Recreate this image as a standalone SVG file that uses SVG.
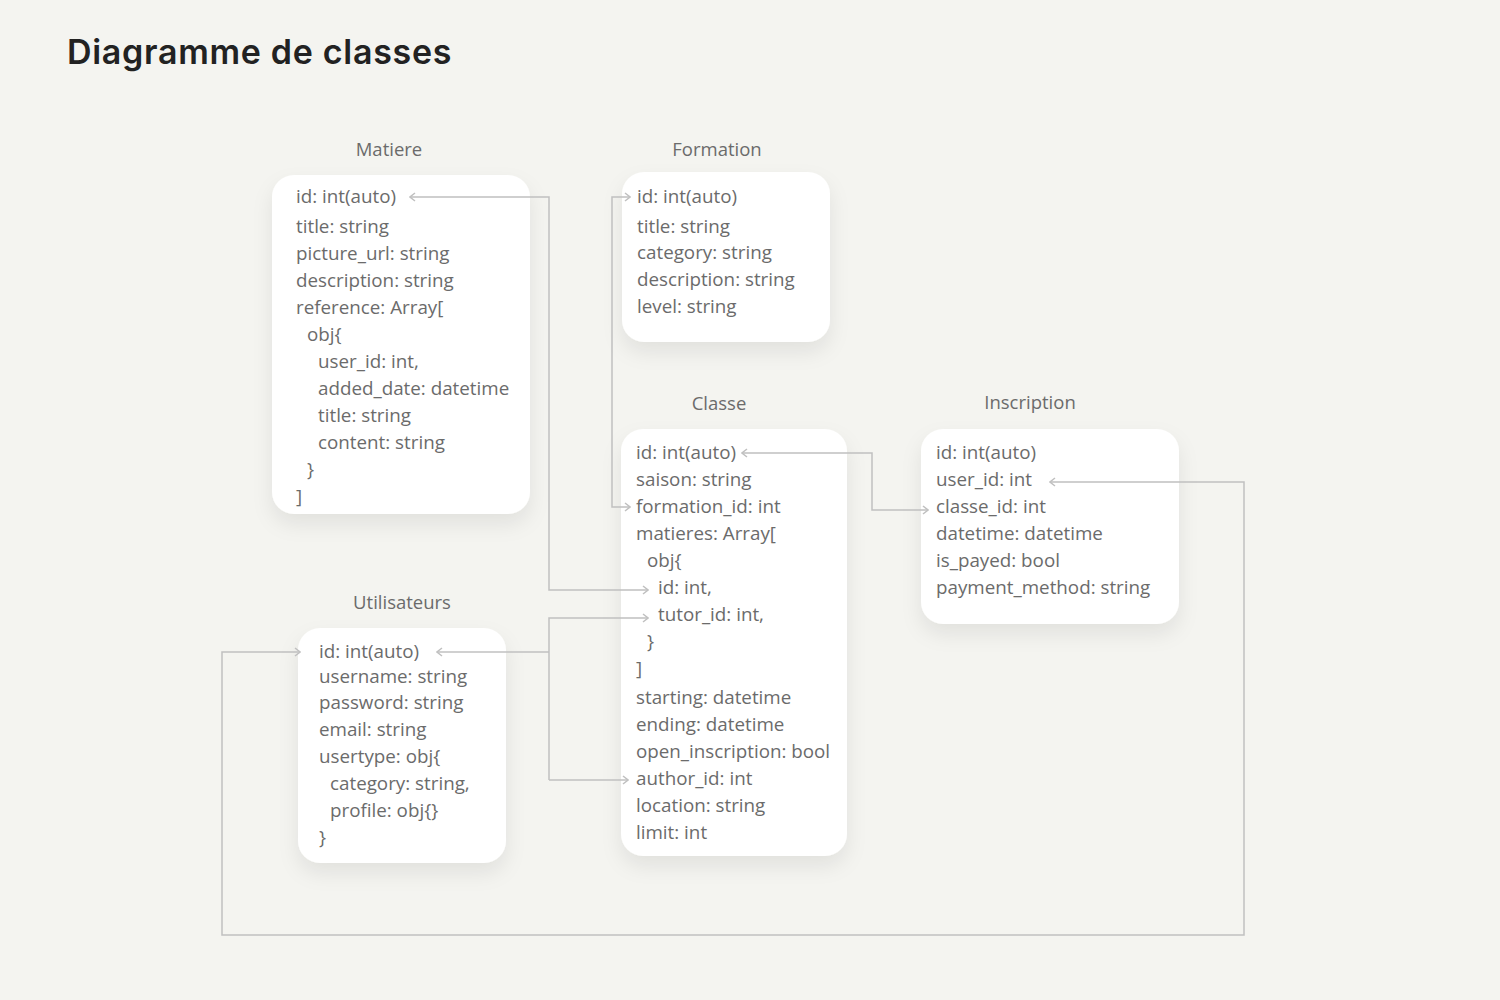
<svg xmlns="http://www.w3.org/2000/svg" width="1500" height="1000" viewBox="0 0 1500 1000">
<style>
.bg{fill:#f4f4f0}
.box{fill:#ffffff;filter:url(#sh)}
.t{font-family:"Open Sans","Noto Sans",sans-serif;font-size:18.8px;fill:#6b6b6b}
.h{font-family:"Open Sans","Noto Sans",sans-serif;font-size:18.5px;fill:#6b6b6b;text-anchor:middle}
.title{font-family:Inter,"Liberation Sans",sans-serif;font-size:34px;font-weight:600;fill:#222222;letter-spacing:0.7px}
.c{fill:none;stroke:#c0c0c0;stroke-width:1.5}
</style>
<defs>
<filter id="sh" x="-30%" y="-30%" width="160%" height="170%">
<feDropShadow dx="0" dy="10" stdDeviation="10" flood-color="#000" flood-opacity="0.08"/>
</filter>
<marker id="ar" viewBox="0 0 10 10" refX="9" refY="5" markerWidth="10" markerHeight="10" markerUnits="userSpaceOnUse" orient="auto-start-reverse">
<path d="M4,1 L9,5 L4,9" fill="none" stroke="#c0c0c0" stroke-width="1.5"/>
</marker>
</defs>
<rect class="bg" x="0" y="0" width="1500" height="1000"/>
<text class="title" x="67" y="64">Diagramme de classes</text>

<g id="matiere">
<text class="h" x="389" y="156">Matiere</text>
<rect class="box" x="272" y="175" width="258" height="339" rx="22"/>
<text class="t" x="296" y="203">id: int(auto)</text>
<text class="t" x="296" y="233">title: string</text>
<text class="t" x="296" y="260">picture_url: string</text>
<text class="t" x="296" y="287">description: string</text>
<text class="t" x="296" y="314">reference: Array[</text>
<text class="t" x="307" y="341">obj{</text>
<text class="t" x="318" y="368">user_id: int,</text>
<text class="t" x="318" y="395">added_date: datetime</text>
<text class="t" x="318" y="422">title: string</text>
<text class="t" x="318" y="449">content: string</text>
<text class="t" x="307" y="476">}</text>
<text class="t" x="296" y="503">]</text>
</g>

<g id="formation">
<text class="h" x="717" y="156">Formation</text>
<rect class="box" x="622" y="172" width="208" height="170" rx="22"/>
<text class="t" x="637" y="203">id: int(auto)</text>
<text class="t" x="637" y="233">title: string</text>
<text class="t" x="637" y="259">category: string</text>
<text class="t" x="637" y="286">description: string</text>
<text class="t" x="637" y="313">level: string</text>
</g>

<g id="classe">
<text class="h" x="719" y="410">Classe</text>
<rect class="box" x="621" y="429" width="226" height="427" rx="22"/>
<text class="t" x="636" y="459">id: int(auto)</text>
<text class="t" x="636" y="486">saison: string</text>
<text class="t" x="636" y="513">formation_id: int</text>
<text class="t" x="636" y="540">matieres: Array[</text>
<text class="t" x="647" y="567">obj{</text>
<text class="t" x="658" y="594">id: int,</text>
<text class="t" x="658" y="621">tutor_id: int,</text>
<text class="t" x="647" y="648">}</text>
<text class="t" x="636" y="675">]</text>
<text class="t" x="636" y="704">starting: datetime</text>
<text class="t" x="636" y="731">ending: datetime</text>
<text class="t" x="636" y="758">open_inscription: bool</text>
<text class="t" x="636" y="785">author_id: int</text>
<text class="t" x="636" y="812">location: string</text>
<text class="t" x="636" y="839">limit: int</text>
</g>

<g id="inscription">
<text class="h" x="1030" y="409">Inscription</text>
<rect class="box" x="921" y="429" width="258" height="195" rx="22"/>
<text class="t" x="936" y="459">id: int(auto)</text>
<text class="t" x="936" y="486">user_id: int</text>
<text class="t" x="936" y="513">classe_id: int</text>
<text class="t" x="936" y="540">datetime: datetime</text>
<text class="t" x="936" y="567">is_payed: bool</text>
<text class="t" x="936" y="594">payment_method: string</text>
</g>

<g id="utilisateurs">
<text class="h" x="402" y="609">Utilisateurs</text>
<rect class="box" x="298" y="628" width="208" height="235" rx="22"/>
<text class="t" x="319" y="658">id: int(auto)</text>
<text class="t" x="319" y="683">username: string</text>
<text class="t" x="319" y="709">password: string</text>
<text class="t" x="319" y="736">email: string</text>
<text class="t" x="319" y="763">usertype: obj{</text>
<text class="t" x="330" y="790">category: string,</text>
<text class="t" x="330" y="817">profile: obj{}</text>
<text class="t" x="319" y="844">}</text>
</g>

<g id="connectors">
<path class="c" d="M410,197 H549 V590 H648" marker-start="url(#ar)" marker-end="url(#ar)"/>
<path class="c" d="M630,197 H612 V507 H630" marker-start="url(#ar)" marker-end="url(#ar)"/>
<path class="c" d="M742,453 H872 V510 H928" marker-start="url(#ar)" marker-end="url(#ar)"/>
<path class="c" d="M437,652 H549" marker-start="url(#ar)"/>
<path class="c" d="M549,780 V618 H648" marker-end="url(#ar)"/>
<path class="c" d="M549,780 H628" marker-end="url(#ar)"/>
<path class="c" d="M300,652 H222 V935 H1244 V482 H1050" marker-start="url(#ar)" marker-end="url(#ar)"/>
</g>
</svg>
